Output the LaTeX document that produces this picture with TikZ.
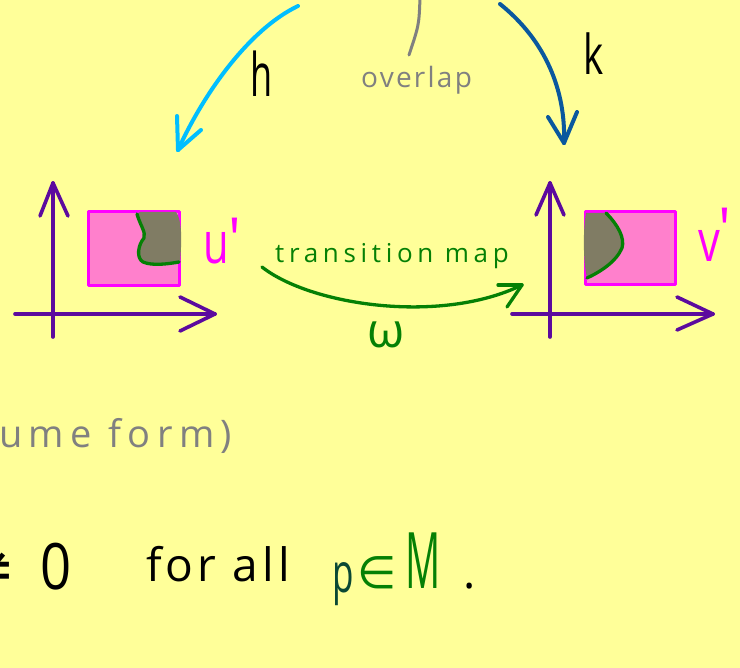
\documentclass[tikz,border=0pt]{standalone}
\usepackage{fontspec}
\setmainfont{Open Sans}
\newfontfamily\dvfont{DejaVu Sans}
\definecolor{bgyellow}{RGB}{255,255,153}
\definecolor{cyanL}{RGB}{0,190,255}
\definecolor{blueD}{RGB}{10,88,158}
\definecolor{grayT}{RGB}{128,128,128}
\definecolor{axpurple}{RGB}{92,10,158}
\definecolor{magentaB}{RGB}{255,0,255}
\definecolor{pinkF}{RGB}{255,128,204}
\definecolor{blobgray}{RGB}{128,124,100}
\definecolor{greenM}{RGB}{5,128,5}
\definecolor{tealD}{RGB}{10,72,52}
\newcommand{\hw}[2]{\fontsize{#1}{#1}\selectfont\addfontfeature{LetterSpace=#2}}
\begin{document}
\begin{tikzpicture}[x=1pt,y=-1pt,line cap=round,line join=round,
  txt/.style={inner sep=0pt,anchor=base west},
  axis/.style={draw=axpurple,line width=3.6pt},
  chart/.style={fill=pinkF,draw=magentaB,line width=3pt},
  rim/.style={draw=greenM,line width=3.3pt}]
\useasboundingbox (0,0) rectangle (740,668);
\fill[bgyellow] (0,0) rectangle (740,668);
\clip (0,0) rectangle (740,668);

% h arrow
\coordinate (hs) at (298,6);
\coordinate (ht) at (178,150);
\draw[cyanL,line width=4pt] (hs) .. controls (248,30) and (203,95) .. (ht);
\draw[cyanL,line width=4pt] (ht) -- ++(-1,-34);
\draw[cyanL,line width=4pt] (ht) -- ++(23,-20);
\node[txt] (hl) at (250,97) {\scalebox{0.6}[1]{\hw{60}{0}h}};

% k arrow
\coordinate (ks) at (500,4);
\coordinate (kt) at (564,143);
\draw[blueD,line width=4pt] (ks) .. controls (545,40) and (566,90) .. (kt);
\draw[blueD,line width=4pt] (kt) -- ++(-16,-26);
\draw[blueD,line width=4pt] (kt) -- ++(13,-31);
\node[txt] (kl) at (583,75) {\scalebox{0.7}[1]{\hw{55}{0}k}};

% overlap
\coordinate (os) at (420,-2);
\coordinate (oe) at (409,55);
\draw[grayT,line width=3pt] (os) .. controls (419,25) .. (oe);
\node[txt,text=grayT] (ol) at (361,88) {\hw{28}{8}overlap};

% left chart
\draw[chart] (88,212) rectangle (179,286);
\fill[blobgray] (137,214) .. controls (140,225) and (146,232) .. (144,238)
  .. controls (138,245) and (136,258) .. (143,262)
  .. controls (152,266) and (168,264) .. (180,262)
  .. controls (182,240) and (182,220) .. (176,212) -- (140,212) -- cycle;
\draw[rim] (137,214) .. controls (140,225) and (146,232) .. (144,238)
  .. controls (138,245) and (136,258) .. (143,262)
  .. controls (152,266) and (168,264) .. (179,262);
\coordinate (lvb) at (53,337);
\coordinate (lvt) at (53,183);
\coordinate (lhl) at (15,314);
\coordinate (lhr) at (215,314);
\draw[axis] (lvb) -- (lvt);
\draw[axis] (lvt) -- ++(-13,33);
\draw[axis] (lvt) -- ++(15,33);
\draw[axis] (lhl) -- (lhr);
\draw[axis] (lhr) -- ++(-35,-17);
\draw[axis] (lhr) -- ++(-35,17);
\node[txt,text=magentaB] (ul) at (203,264) {\hw{58}{0}\scalebox{0.72}[1]{u}\raisebox{4pt}{\textquotesingle}};

% right chart
\draw[chart] (585,212) rectangle (675,285);
\fill[blobgray] (606,213) .. controls (618,225) and (625,238) .. (622,248)
  .. controls (616,262) and (600,272) .. (587,278)
  .. controls (583,260) and (583,230) .. (586,213) -- cycle;
\draw[rim] (606,213) .. controls (618,225) and (625,238) .. (622,248)
  .. controls (616,262) and (600,272) .. (587,278);
\coordinate (rvb) at (550,337);
\coordinate (rvt) at (550,183);
\coordinate (rhl) at (512,314);
\coordinate (rhr) at (713,314);
\draw[axis] (rvb) -- (rvt);
\draw[axis] (rvt) -- ++(-14,32);
\draw[axis] (rvt) -- ++(14,32);
\draw[axis] (rhl) -- (rhr);
\draw[axis] (rhr) -- ++(-36,-17);
\draw[axis] (rhr) -- ++(-36,16);
\node[txt,text=magentaB] (vl) at (698,262) {\hw{58}{0}\scalebox{0.75}[1]{v}\kern-1pt\raisebox{12pt}{\textquotesingle}};

% transition map
\coordinate (ws) at (262,267);
\coordinate (wt) at (522,285);
\draw[greenM,line width=3.3pt] (ws) .. controls (310,305) and (440,325) .. (wt);
\draw[greenM,line width=3.3pt] (wt) -- ++(-24,0);
\draw[greenM,line width=3.3pt] (wt) -- ++(-15,22);
\node[txt,text=greenM] (tm) at (275,263) {\hw{26}{18}transition map};
\node[txt,text=greenM] (om) at (367,348) {\hw{48}{0}ω};

% lower text
\node[txt,text=grayT] (vf) at (-1,448) {\hw{38}{17}ume form)};
\node[inner sep=0pt,anchor=base east] (ne) at (16,590) {\dvfont\fontsize{60}{60}\selectfont ≠};
\node[txt] (zr) at (40,590) {\scalebox{0.85}[1]{\hw{64}{0}0}};
\node[txt] (fa) at (146,582) {\hw{46}{9}for all};
\node[txt,text=tealD] (pp) at (332,592) {\scalebox{0.7}[1.1]{\hw{50}{0}p}};
\node[txt,text=greenM] (el) at (357,588) {\dvfont\fontsize{45}{45}\selectfont ∈};
\node[txt,text=greenM] (mm) at (405,588) {\scalebox{0.5}[1]{\hw{78}{0}M}};
\node[txt] (dt) at (463,588) {\hw{46}{0}.};
\end{tikzpicture}
\end{document}
